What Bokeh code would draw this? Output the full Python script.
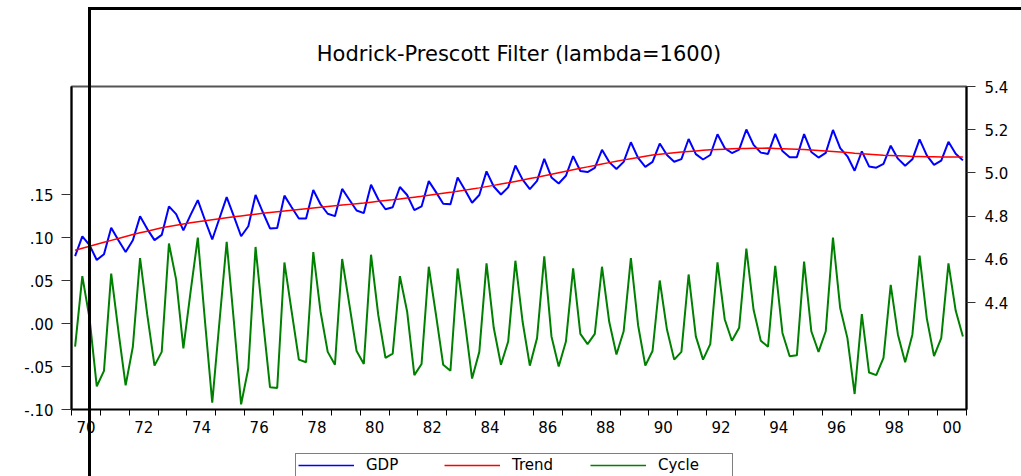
from bokeh.plotting import figure
from bokeh.layouts import column
from bokeh.models import (Range1d, LinearAxis, FixedTicker, Legend, LegendItem,
                          InlineStyleSheet)
from bokeh.embed import file_html
from bokeh.resources import INLINE

# ---------------- data (quarterly, 1970Q1 - 2000Q4) ----------------
years = list(range(1970, 2001))
quarters = [1, 2, 3, 4]

gdp = [4.615, 4.706, 4.666, 4.597, 4.624, 4.746, 4.688, 4.634,
       4.688, 4.799, 4.740, 4.689, 4.713, 4.845, 4.809, 4.734,
       4.806, 4.874, 4.781, 4.692, 4.790, 4.888, 4.799, 4.707,
       4.753, 4.898, 4.819, 4.743, 4.745, 4.895, 4.841, 4.789,
       4.789, 4.921, 4.855, 4.811, 4.800, 4.926, 4.876, 4.826,
       4.814, 4.945, 4.878, 4.832, 4.841, 4.935, 4.898, 4.828,
       4.845, 4.962, 4.911, 4.857, 4.855, 4.979, 4.922, 4.862,
       4.898, 5.007, 4.937, 4.900, 4.933, 5.034, 4.969, 4.925,
       4.963, 5.065, 4.979, 4.951, 4.987, 5.078, 5.009, 5.004,
       5.023, 5.107, 5.050, 5.018, 5.051, 5.142, 5.070, 5.028,
       5.051, 5.136, 5.083, 5.052, 5.064, 5.157, 5.087, 5.062,
       5.083, 5.179, 5.115, 5.092, 5.108, 5.201, 5.130, 5.094,
       5.088, 5.181, 5.101, 5.073, 5.073, 5.180, 5.097, 5.071,
       5.093, 5.199, 5.115, 5.077, 5.010, 5.100, 5.030, 5.024,
       5.042, 5.126, 5.066, 5.033, 5.063, 5.155, 5.081, 5.037,
       5.057, 5.144, 5.089, 5.058]

trend = [4.6420, 4.6512, 4.6604, 4.6696, 4.6788, 4.6878, 4.6968, 4.7058,
         4.7148, 4.7226, 4.7304, 4.7382, 4.7460, 4.7518, 4.7576, 4.7634,
         4.7692, 4.7740, 4.7788, 4.7836, 4.7884, 4.7926, 4.7968, 4.8010,
         4.8052, 4.8090, 4.8128, 4.8166, 4.8204, 4.8239, 4.8274, 4.8309,
         4.8344, 4.8377, 4.8410, 4.8443, 4.8476, 4.8510, 4.8544, 4.8578,
         4.8612, 4.8648, 4.8684, 4.8720, 4.8756, 4.8796, 4.8836, 4.8876,
         4.8916, 4.8962, 4.9008, 4.9054, 4.9100, 4.9152, 4.9204, 4.9256,
         4.9308, 4.9366, 4.9424, 4.9482, 4.9540, 4.9606, 4.9672, 4.9738,
         4.9804, 4.9872, 4.9940, 5.0008, 5.0076, 5.0144, 5.0212, 5.0280,
         5.0348, 5.0412, 5.0476, 5.0540, 5.0604, 5.0660, 5.0716, 5.0772,
         5.0828, 5.0864, 5.0900, 5.0936, 5.0972, 5.0996, 5.1020, 5.1044,
         5.1068, 5.1084, 5.1100, 5.1116, 5.1132, 5.1136, 5.1140, 5.1144,
         5.1148, 5.1136, 5.1124, 5.1112, 5.1100, 5.1080, 5.1060, 5.1040,
         5.1020, 5.0994, 5.0968, 5.0942, 5.0916, 5.0892, 5.0868, 5.0844,
         5.0820, 5.0806, 5.0792, 5.0778, 5.0764, 5.0758, 5.0752, 5.0746,
         5.0740, 5.0738, 5.0736, 5.0734]

cycle = [-0.027, 0.055, 0.006, -0.073, -0.055, 0.058, -0.009, -0.072,
         -0.027, 0.076, 0.010, -0.049, -0.033, 0.093, 0.051, -0.029,
         0.037, 0.100, 0.002, -0.092, 0.002, 0.095, 0.002, -0.094,
         -0.052, 0.089, 0.006, -0.074, -0.075, 0.071, 0.014, -0.042,
         -0.045, 0.083, 0.014, -0.033, -0.048, 0.075, 0.022, -0.032,
         -0.047, 0.080, 0.010, -0.040, -0.035, 0.055, 0.014, -0.060,
         -0.047, 0.066, 0.010, -0.048, -0.055, 0.064, 0.002, -0.064,
         -0.033, 0.070, -0.005, -0.048, -0.021, 0.073, 0.002, -0.049,
         -0.017, 0.078, -0.015, -0.050, -0.021, 0.064, -0.012, -0.024,
         -0.012, 0.066, 0.002, -0.036, -0.009, 0.076, -0.002, -0.049,
         -0.032, 0.050, -0.007, -0.042, -0.033, 0.057, -0.015, -0.042,
         -0.024, 0.071, 0.005, -0.020, -0.005, 0.087, 0.016, -0.020,
         -0.027, 0.067, -0.011, -0.038, -0.037, 0.072, -0.009, -0.033,
         -0.009, 0.100, 0.018, -0.017, -0.082, 0.011, -0.057, -0.060,
         -0.040, 0.045, -0.013, -0.045, -0.013, 0.079, 0.006, -0.038,
         -0.017, 0.070, 0.015, -0.015]

label_years = list(range(1970, 2001, 2))
year_labels = ["70", "72", "74", "76", "78", "80", "82", "84",
               "86", "88", "90", "92", "94", "96", "98", "00"]
left_ticks = [-0.10, -0.05, 0.0, 0.05, 0.10, 0.15]
left_labels = ["-.10", "-.05", ".00", ".05", ".10", ".15"]
right_ticks = [4.4, 4.6, 4.8, 5.0, 5.2, 5.4]
right_labels = ["4.4", "4.6", "4.8", "5.0", "5.2", "5.4"]

series_names = ["GDP", "Trend", "Cycle"]
series_colors = ["#0000FF", "#FF0000", "#008000"]
title_text = "Hodrick-Prescott Filter (lambda=1600)"

# time position of each quarter (centre of the quarter)
t = [y + (q - 0.5) / 4.0 for y in years for q in quarters]

FONT = "DejaVu Sans"

# ---------------- main chart ----------------
p = figure(width=1021, height=445, output_backend="svg", toolbar_location=None,
           x_range=Range1d(1970, 2001), y_range=Range1d(-0.10, 0.2756),
           min_border_left=71, min_border_right=55, min_border_top=86,
           min_border_bottom=36, background_fill_color="white",
           border_fill_color="white")
p.extra_y_ranges = {"gdp": Range1d(3.905, 5.4)}

p.xgrid.visible = False
p.ygrid.visible = False
p.outline_line_color = "#555555"
p.outline_line_width = 2

p.title.text = title_text
p.title.align = "center"
p.title.text_font = FONT
p.title.text_font_size = "21px"
p.title.text_font_style = "normal"
p.title.text_color = "black"
p.title.standoff = 42

# x axis: labels centred in the year, ticks at year boundaries
xa = p.xaxis[0]
xa.ticker = FixedTicker(ticks=[y + 0.5 for y in label_years],
                        minor_ticks=list(range(1970, 2002)))
xa.major_label_overrides = {y + 0.5: lab for y, lab in zip(label_years, year_labels)}
xa.major_tick_out = 0
xa.major_tick_in = 0
xa.minor_tick_out = 6
xa.minor_tick_in = 0
xa.minor_tick_line_color = "black"
xa.minor_tick_line_width = 1
xa.axis_line_color = "black"
xa.axis_line_width = 1.5
xa.major_label_text_font = FONT
xa.major_label_text_font_size = "15px"
xa.major_label_text_color = "black"
xa.major_label_standoff = 5

# left axis (cycle)
ya = p.yaxis[0]
ya.ticker = FixedTicker(ticks=left_ticks)
ya.major_label_overrides = {v: lab for v, lab in zip(left_ticks, left_labels)}
ya.major_tick_out = 10
ya.major_tick_in = 0
ya.major_tick_line_color = "#333333"
ya.minor_tick_line_color = None
ya.axis_line_color = "black"
ya.axis_line_width = 2
ya.major_label_text_font = FONT
ya.major_label_text_font_size = "15px"
ya.major_label_text_color = "black"
ya.major_label_standoff = 8

# right axis (GDP / trend)
ra = LinearAxis(y_range_name="gdp", ticker=FixedTicker(ticks=right_ticks))
ra.major_label_overrides = {v: lab for v, lab in zip(right_ticks, right_labels)}
ra.major_tick_out = 9
ra.major_tick_in = 0
ra.major_tick_line_color = "#333333"
ra.minor_tick_line_color = None
ra.axis_line_color = "black"
ra.axis_line_width = 2
ra.major_label_text_font = FONT
ra.major_label_text_font_size = "15px"
ra.major_label_text_color = "black"
ra.major_label_standoff = 9
p.add_layout(ra, "right")

p.line(t, cycle, line_color=series_colors[2], line_width=2)
p.line(t, gdp, line_color=series_colors[0], line_width=2, y_range_name="gdp")
p.line(t, trend, line_color=series_colors[1], line_width=1.5, y_range_name="gdp")

# ---------------- legend strip (bottom of the window) ----------------
# the strip's view range lies far from the data, so its copies of the series
# are not drawn; they only supply the legend glyphs
pl = figure(width=1021, height=31, output_backend="svg", toolbar_location=None,
            x_range=Range1d(1970, 2001), y_range=Range1d(100, 101),
            x_axis_type=None, y_axis_type=None,
            min_border_left=0, min_border_right=0, min_border_top=0,
            min_border_bottom=0, background_fill_color="white",
            border_fill_color="white")
pl.xgrid.visible = False
pl.ygrid.visible = False
pl.outline_line_color = None

items = []
for name, col, vals in zip(series_names, series_colors, [gdp, trend, cycle]):
    rr = pl.line(t, vals, line_color=col, line_width=1.6)
    items.append(LegendItem(label=name, renderers=[rr]))

legend = Legend(items=items, orientation="horizontal", location=(224, -1),
                margin=0, padding=2, spacing=6, glyph_width=56, glyph_height=16,
                label_width=72, label_height=16, label_standoff=12,
                border_line_color="black", border_line_width=1,
                label_text_font=FONT, label_text_font_size="15px",
                label_text_color="black", background_fill_color="white",
                background_fill_alpha=1.0)
pl.add_layout(legend, "center")

# window-edge lines that overlay the screenshot (drawn with CSS on the host)
edge_css = InlineStyleSheet(css="""
:host { position: relative; }
:host::before { content: ""; position: absolute; left: 88px; top: 7px;
  width: 3px; height: 469px; background: #000; z-index: 1000; pointer-events: none; }
:host::after { content: ""; position: absolute; left: 88px; top: 7px;
  width: 933px; height: 3px; background: #000; z-index: 1000; pointer-events: none; }
""")

page = column(p, pl, spacing=0, stylesheets=[edge_css])

open("out.html", "w").write(file_html(page, INLINE))
